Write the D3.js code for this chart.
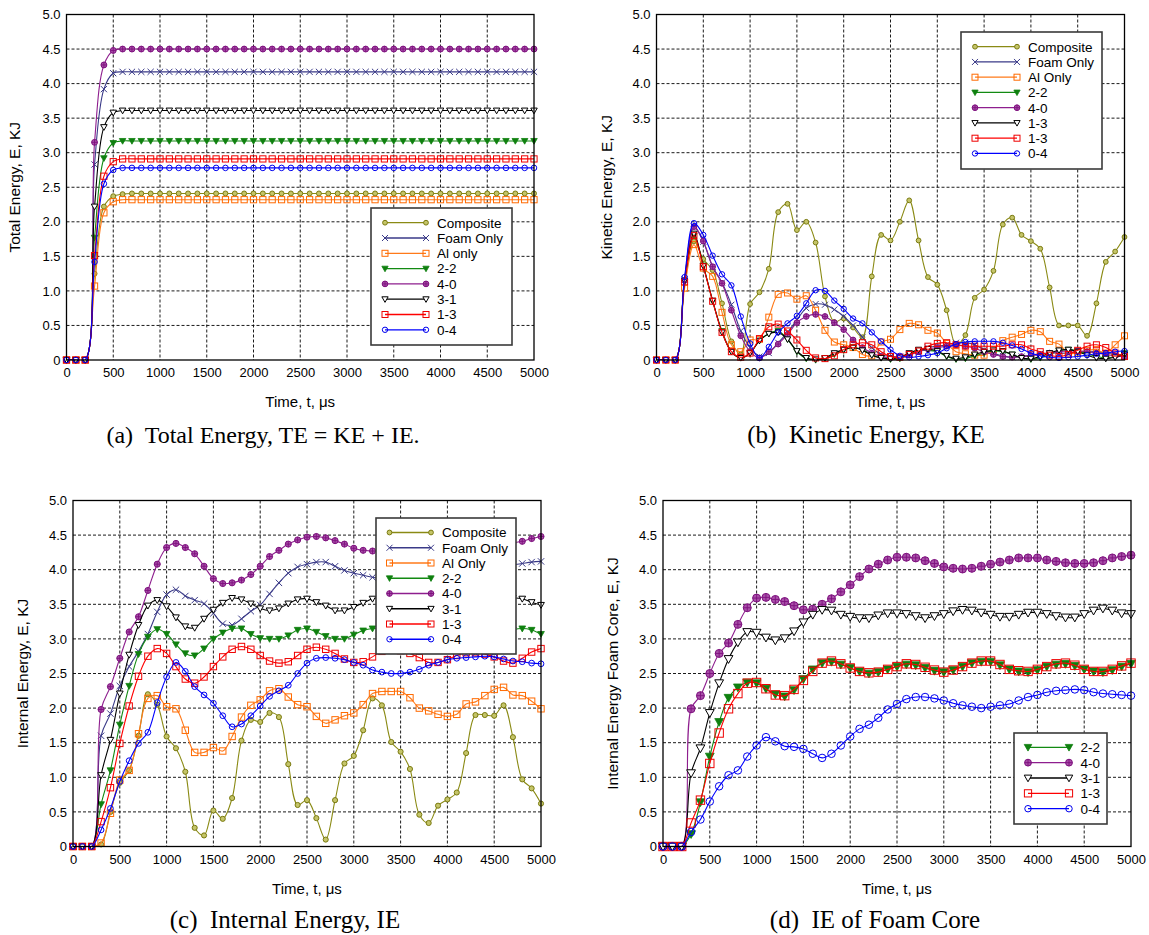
<!DOCTYPE html>
<html><head><meta charset="utf-8">
<script src="https://cdn.jsdelivr.net/npm/d3@7"></script>
<style>
html,body{margin:0;padding:0;background:#fff;}
svg{display:block;}
text{font-family:"Liberation Sans",Arial,sans-serif;}
.cap{font-family:"Liberation Serif","Times New Roman",serif;white-space:pre;}
</style></head>
<body>
<svg id="chart" width="1149" height="935"></svg>
<script>
// ---------------- DATA ----------------
const TIME = [0,100,200,300,400,500,600,700,800,900,
  1000,1100,1200,1300,1400,1500,1600,1700,1800,1900,
  2000,2100,2200,2300,2400,2500,2600,2700,2800,2900,
  3000,3100,3200,3300,3400,3500,3600,3700,3800,3900,
  4000,4100,4200,4300,4400,4500,4600,4700,4800,4900,5000];
const X_TICKS = [0,500,1000,1500,2000,2500,3000,3500,4000,4500,5000];
const Y_TICKS = [0,0.5,1.0,1.5,2.0,2.5,3.0,3.5,4.0,4.5,5.0];
const Y_TICK_LABELS = ["0","0.5","1.0","1.5","2.0","2.5","3.0","3.5","4.0","4.5","5.0"];

// (a) Total energy
const TE_COMPOSITE = [0,0,0,1.25,2.22,2.37,2.40,2.41,2.41,2.41,
  2.41,2.41,2.41,2.41,2.41,2.41,2.41,2.41,2.41,2.41,
  2.41,2.41,2.41,2.41,2.41,2.41,2.41,2.41,2.41,2.41,
  2.41,2.41,2.41,2.41,2.41,2.41,2.41,2.41,2.41,2.41,
  2.41,2.41,2.41,2.41,2.41,2.41,2.41,2.41,2.41,2.41,2.41];
const TE_FOAM = [0,0,0,2.83,3.92,4.15,4.17,4.17,4.17,4.17,
  4.17,4.17,4.17,4.17,4.17,4.17,4.17,4.17,4.17,4.17,
  4.17,4.17,4.17,4.17,4.17,4.17,4.17,4.17,4.17,4.17,
  4.17,4.17,4.17,4.17,4.17,4.17,4.17,4.17,4.17,4.17,
  4.17,4.17,4.17,4.17,4.17,4.17,4.17,4.17,4.17,4.17,4.17];
const TE_AL = [0,0,0,1.07,2.13,2.29,2.32,2.32,2.32,2.32,
  2.32,2.32,2.32,2.32,2.32,2.32,2.32,2.32,2.32,2.32,
  2.32,2.32,2.32,2.32,2.32,2.32,2.32,2.32,2.32,2.32,
  2.32,2.32,2.32,2.32,2.32,2.32,2.32,2.32,2.32,2.32,
  2.32,2.32,2.32,2.32,2.32,2.32,2.32,2.32,2.32,2.32,2.32];
const TE_22 = [0,0,0,1.77,2.92,3.14,3.17,3.17,3.17,3.17,
  3.17,3.17,3.17,3.17,3.17,3.17,3.17,3.17,3.17,3.17,
  3.17,3.17,3.17,3.17,3.17,3.17,3.17,3.17,3.17,3.17,
  3.17,3.17,3.17,3.17,3.17,3.17,3.17,3.17,3.17,3.17,
  3.17,3.17,3.17,3.17,3.17,3.17,3.17,3.17,3.17,3.17,3.17];
const TE_40 = [0,0,0,3.15,4.27,4.48,4.50,4.50,4.50,4.50,
  4.50,4.50,4.50,4.50,4.50,4.50,4.50,4.50,4.50,4.50,
  4.50,4.50,4.50,4.50,4.50,4.50,4.50,4.50,4.50,4.50,
  4.50,4.50,4.50,4.50,4.50,4.50,4.50,4.50,4.50,4.50,
  4.50,4.50,4.50,4.50,4.50,4.50,4.50,4.50,4.50,4.50,4.50];
const TE_31 = [0,0,0,2.22,3.37,3.58,3.61,3.61,3.61,3.61,
  3.61,3.61,3.61,3.61,3.61,3.61,3.61,3.61,3.61,3.61,
  3.61,3.61,3.61,3.61,3.61,3.61,3.61,3.61,3.61,3.61,
  3.61,3.61,3.61,3.61,3.61,3.61,3.61,3.61,3.61,3.61,
  3.61,3.61,3.61,3.61,3.61,3.61,3.61,3.61,3.61,3.61,3.61];
const TE_13 = [0,0,0,1.51,2.66,2.87,2.91,2.91,2.91,2.91,
  2.91,2.91,2.91,2.91,2.91,2.91,2.91,2.91,2.91,2.91,
  2.91,2.91,2.91,2.91,2.91,2.91,2.91,2.91,2.91,2.91,
  2.91,2.91,2.91,2.91,2.91,2.91,2.91,2.91,2.91,2.91,
  2.91,2.91,2.91,2.91,2.91,2.91,2.91,2.91,2.91,2.91,2.91];
const TE_04 = [0,0,0,1.42,2.55,2.75,2.78,2.78,2.78,2.78,
  2.78,2.78,2.78,2.78,2.78,2.78,2.78,2.78,2.78,2.78,
  2.78,2.78,2.78,2.78,2.78,2.78,2.78,2.78,2.78,2.78,
  2.78,2.78,2.78,2.78,2.78,2.78,2.78,2.78,2.78,2.78,
  2.78,2.78,2.78,2.78,2.78,2.78,2.78,2.78,2.78,2.78,2.78];

// (b) Kinetic energy
const KE_COMPOSITE = [0,0,0,1.15,1.72,1.46,1.30,0.82,0.27,0.08,
  0.81,0.98,1.32,2.14,2.26,1.88,2.00,1.70,0.92,0.55,
  0.60,0.47,0.33,1.21,1.81,1.73,2.00,2.31,1.73,1.20,
  1.09,0.72,0.22,0.36,0.90,1.02,1.29,1.96,2.06,1.81,
  1.72,1.61,1.05,0.50,0.50,0.50,0.35,0.82,1.42,1.57,1.78];
const KE_FOAM = [0,0,0,1.17,1.93,1.71,1.35,1.12,0.80,0.42,
  0.18,0.05,0.10,0.25,0.40,0.58,0.75,0.81,0.80,0.73,
  0.63,0.50,0.33,0.18,0.08,0.05,0.05,0.08,0.13,0.18,
  0.20,0.22,0.25,0.25,0.22,0.15,0.10,0.06,0.04,0.05,
  0.07,0.09,0.10,0.10,0.10,0.12,0.13,0.12,0.10,0.08,0.07];
const KE_AL = [0,0,0,1.04,1.67,1.33,1.21,0.69,0.22,0.12,
  0.29,0.30,0.62,0.95,0.97,0.88,0.93,0.72,0.43,0.26,
  0.22,0.18,0.08,0.06,0.26,0.30,0.44,0.53,0.51,0.43,
  0.39,0.24,0.12,0.09,0.07,0.07,0.15,0.28,0.33,0.37,
  0.43,0.41,0.27,0.23,0.10,0.10,0.14,0.15,0.10,0.22,0.35];
const KE_22 = [0,0,0,1.13,1.80,1.37,0.85,0.42,0.12,0.03,
  0.10,0.28,0.38,0.42,0.30,0.12,0.02,0.00,0.02,0.08,
  0.14,0.18,0.15,0.08,0.03,0.01,0.02,0.08,0.13,0.14,
  0.12,0.05,0.01,0.02,0.06,0.10,0.13,0.12,0.08,0.03,
  0.01,0.03,0.08,0.13,0.15,0.13,0.09,0.05,0.03,0.05,0.10];
const KE_40 = [0,0,0,1.15,1.93,1.72,1.35,1.11,0.72,0.35,
  0.12,0.03,0.12,0.23,0.37,0.54,0.63,0.66,0.63,0.54,
  0.44,0.29,0.18,0.10,0.05,0.03,0.04,0.07,0.12,0.16,
  0.18,0.20,0.22,0.20,0.17,0.12,0.08,0.05,0.04,0.05,
  0.06,0.08,0.10,0.12,0.13,0.13,0.12,0.10,0.08,0.06,0.05];
const KE_31 = [0,0,0,1.15,1.83,1.36,0.86,0.40,0.12,0.03,
  0.10,0.28,0.38,0.40,0.30,0.13,0.03,0.01,0.03,0.10,
  0.15,0.18,0.14,0.07,0.03,0.02,0.04,0.10,0.15,0.16,
  0.13,0.06,0.02,0.04,0.08,0.12,0.14,0.13,0.08,0.03,
  0.02,0.05,0.10,0.14,0.15,0.12,0.07,0.03,0.02,0.04,0.08];
const KE_13 = [0,0,0,1.13,1.80,1.35,0.85,0.40,0.12,0.04,
  0.10,0.31,0.48,0.52,0.42,0.29,0.14,0.03,0.02,0.06,
  0.15,0.22,0.25,0.22,0.12,0.05,0.04,0.08,0.13,0.20,
  0.24,0.25,0.22,0.20,0.20,0.20,0.20,0.20,0.22,0.22,
  0.16,0.12,0.07,0.05,0.08,0.14,0.20,0.22,0.18,0.10,0.05];
const KE_04 = [0,0,0,1.20,1.98,1.81,1.51,1.24,1.08,0.63,
  0.24,0.03,0.19,0.40,0.53,0.64,0.82,1.01,1.00,0.86,
  0.74,0.60,0.53,0.40,0.27,0.15,0.06,0.04,0.05,0.07,
  0.10,0.17,0.23,0.26,0.27,0.27,0.27,0.25,0.21,0.16,
  0.10,0.06,0.04,0.03,0.04,0.05,0.07,0.09,0.10,0.12,0.13];

// (c) Internal energy
const IE_COMPOSITE = [0,0,0,0.03,0.50,0.92,1.10,1.60,2.20,2.05,
  1.59,1.42,1.08,0.27,0.16,0.52,0.40,0.70,1.53,1.83,
  1.80,1.93,1.87,1.19,0.60,0.67,0.41,0.10,0.67,1.20,
  1.31,1.68,2.14,2.04,1.51,1.37,1.12,0.46,0.34,0.59,
  0.68,0.78,1.35,1.90,1.90,1.89,2.04,1.58,0.97,0.84,0.62];
const IE_FOAM = [0,0,0,1.60,1.92,2.32,2.60,2.82,3.07,3.39,
  3.64,3.71,3.62,3.56,3.51,3.37,3.22,3.20,3.29,3.40,
  3.49,3.65,3.81,3.95,4.04,4.08,4.11,4.11,4.05,3.99,
  3.95,3.92,3.89,3.87,3.86,3.87,3.89,3.92,3.95,3.97,
  3.98,3.99,4.00,4.02,4.04,4.05,4.06,4.07,4.09,4.11,4.12];
const IE_AL = [0,0,0,0.05,0.48,0.96,1.10,1.63,2.14,2.18,
  2.02,1.99,1.68,1.36,1.36,1.43,1.38,1.59,1.87,2.04,
  2.12,2.25,2.28,2.16,2.05,2.02,1.88,1.78,1.83,1.89,
  1.93,2.05,2.21,2.24,2.24,2.24,2.15,2.00,1.96,1.91,
  1.88,1.91,2.06,2.09,2.18,2.27,2.30,2.19,2.18,2.10,1.99];
const IE_22 = [0,0,0,0.61,1.10,1.76,2.32,2.78,3.03,3.14,
  3.07,2.92,2.79,2.76,2.86,3.00,3.09,3.15,3.15,3.07,
  3.01,3.00,3.00,3.05,3.13,3.15,3.10,3.04,3.00,3.00,
  3.06,3.12,3.15,3.15,3.12,3.07,3.02,3.00,3.02,3.07,
  3.12,3.15,3.14,3.10,3.06,3.05,3.08,3.13,3.15,3.13,3.07];
const IE_40 = [0,0,0,1.98,2.31,2.72,3.10,3.32,3.70,4.08,
  4.32,4.38,4.32,4.23,4.05,3.87,3.80,3.81,3.85,3.93,
  4.05,4.19,4.28,4.37,4.43,4.47,4.48,4.46,4.42,4.37,
  4.31,4.28,4.27,4.26,4.27,4.28,4.30,4.32,4.33,4.33,
  4.32,4.31,4.31,4.32,4.34,4.36,4.38,4.39,4.41,4.45,4.48];
const IE_31 = [0,0,0,1.03,1.54,2.21,2.77,3.20,3.48,3.56,
  3.47,3.31,3.18,3.16,3.29,3.42,3.52,3.59,3.57,3.51,
  3.44,3.41,3.44,3.51,3.57,3.58,3.53,3.48,3.41,3.41,
  3.46,3.52,3.58,3.60,3.58,3.53,3.47,3.44,3.45,3.50,
  3.55,3.58,3.57,3.53,3.50,3.52,3.56,3.59,3.58,3.53,3.49];
const IE_13 = [0,0,0,0.36,0.85,1.49,2.03,2.46,2.75,2.86,
  2.79,2.60,2.42,2.36,2.45,2.60,2.74,2.85,2.89,2.85,
  2.76,2.68,2.65,2.67,2.76,2.85,2.88,2.85,2.79,2.71,
  2.66,2.67,2.74,2.82,2.84,2.83,2.79,2.73,2.66,2.66,
  2.70,2.76,2.80,2.80,2.78,2.74,2.68,2.65,2.72,2.81,2.86];
const IE_04 = [0,0,0,0.24,0.55,0.94,1.24,1.49,1.65,2.08,
  2.45,2.66,2.53,2.31,2.19,2.07,1.89,1.73,1.77,1.89,
  2.03,2.17,2.25,2.33,2.50,2.65,2.72,2.73,2.72,2.70,
  2.66,2.62,2.55,2.52,2.50,2.50,2.52,2.56,2.62,2.66,
  2.70,2.72,2.73,2.74,2.75,2.74,2.71,2.68,2.67,2.65,2.64];

// (d) IE of foam core
const FC_22 = [0,0,0,0.18,0.64,1.30,1.80,2.15,2.30,2.37,
  2.36,2.28,2.20,2.17,2.26,2.42,2.56,2.65,2.67,2.63,
  2.58,2.53,2.50,2.52,2.56,2.60,2.63,2.62,2.58,2.54,
  2.52,2.55,2.60,2.65,2.67,2.67,2.62,2.56,2.53,2.52,
  2.55,2.60,2.63,2.64,2.61,2.56,2.53,2.52,2.55,2.60,2.64];
const FC_40 = [0,0,0,1.99,2.18,2.50,2.79,2.94,3.21,3.45,
  3.59,3.60,3.57,3.54,3.48,3.42,3.43,3.50,3.58,3.68,
  3.78,3.90,4.01,4.08,4.14,4.18,4.18,4.17,4.13,4.09,
  4.04,4.02,4.01,4.02,4.05,4.08,4.11,4.14,4.17,4.17,
  4.17,4.14,4.12,4.10,4.09,4.09,4.10,4.13,4.17,4.19,4.21];
const FC_31 = [0,0,0,1.06,1.42,1.93,2.36,2.71,2.95,3.10,
  3.09,3.02,2.98,3.01,3.11,3.24,3.35,3.42,3.41,3.35,
  3.32,3.30,3.30,3.34,3.37,3.37,3.36,3.33,3.30,3.33,
  3.36,3.40,3.42,3.41,3.38,3.35,3.32,3.32,3.35,3.38,
  3.38,3.36,3.33,3.31,3.31,3.36,3.41,3.44,3.41,3.37,3.36];
const FC_13 = [0,0,0,0.34,0.67,1.20,1.64,1.99,2.21,2.36,
  2.37,2.28,2.19,2.18,2.27,2.40,2.53,2.65,2.68,2.64,
  2.58,2.53,2.51,2.52,2.56,2.60,2.64,2.63,2.59,2.55,
  2.52,2.55,2.60,2.65,2.68,2.68,2.63,2.56,2.54,2.53,
  2.56,2.60,2.64,2.65,2.62,2.56,2.53,2.53,2.56,2.61,2.65];
const FC_04 = [0,0,0,0.21,0.39,0.65,0.87,1.03,1.10,1.30,
  1.46,1.58,1.52,1.45,1.44,1.41,1.34,1.28,1.34,1.46,
  1.59,1.70,1.76,1.86,1.98,2.06,2.13,2.16,2.16,2.14,
  2.11,2.07,2.04,2.02,2.00,2.02,2.04,2.06,2.11,2.16,
  2.19,2.23,2.25,2.26,2.27,2.26,2.23,2.21,2.20,2.19,2.18];

const LEGEND_A = ["Composite","Foam Only","Al only","2-2","4-0","3-1","1-3","0-4"];
const LEGEND_B = ["Composite","Foam Only","Al Only","2-2","4-0","1-3","1-3","0-4"];
const LEGEND_C = ["Composite","Foam Only","Al Only","2-2","4-0","3-1","1-3","0-4"];
const LEGEND_D = ["2-2","4-0","3-1","1-3","0-4"];

// ---------------- STYLES ----------------
const STY = {
  comp: {color:"#8a8a14", marker:"circ", fill:"#c4c468", stroke:"#7a7a10"},
  foam: {color:"#3a3a88", marker:"x", fill:"none", stroke:"#3a3a88"},
  al:   {color:"#ff7a1a", marker:"sq", fill:"none", stroke:"#ff6a00"},
  s22:  {color:"#128a12", marker:"trif", fill:"#0f800f", stroke:"#0f800f"},
  s40:  {color:"#8e1e8e", marker:"circplus", fill:"#a850a8", stroke:"#7e107e"},
  s31:  {color:"#000000", marker:"trio", fill:"#ffffff", stroke:"#000000"},
  s13:  {color:"#ff0000", marker:"sq", fill:"none", stroke:"#ee0000"},
  s04:  {color:"#0000ff", marker:"circo", fill:"none", stroke:"#0000ee"}
};

const svg = d3.select("#chart");

function marker(g, st, cx, cy, s) {
  const m = g.append("g").attr("transform", `translate(${cx},${cy})`);
  switch (st.marker) {
    case "circ":
      m.append("circle").attr("r", s*0.8).attr("fill", st.fill).attr("stroke", st.stroke).attr("stroke-width", 1);
      break;
    case "circo":
      m.append("circle").attr("r", s*0.9).attr("fill", "none").attr("stroke", st.stroke).attr("stroke-width", 1);
      break;
    case "circplus":
      m.append("circle").attr("r", s*0.95).attr("fill", st.fill).attr("stroke", st.stroke).attr("stroke-width", 1);
      m.append("path").attr("d", `M${-s*0.95},0H${s*0.95}M0,${-s*0.95}V${s*0.95}`).attr("stroke", st.stroke).attr("stroke-width", 0.9);
      break;
    case "x":
      m.append("path").attr("d", `M${-s},${-s}L${s},${s}M${-s},${s}L${s},${-s}`).attr("stroke", st.stroke).attr("stroke-width", 1);
      break;
    case "sq":
      m.append("rect").attr("x", -s).attr("y", -s).attr("width", 2*s).attr("height", 2*s)
        .attr("fill", "none").attr("stroke", st.stroke).attr("stroke-width", 1);
      break;
    case "trif":
      m.append("path").attr("d", `M${-s*1.05},${-s*0.8}L${s*1.05},${-s*0.8}L0,${s*1.05}Z`).attr("fill", st.fill).attr("stroke", st.stroke).attr("stroke-width", 0.8);
      break;
    case "trio":
      m.append("path").attr("d", `M${-s*1.05},${-s*0.8}L${s*1.05},${-s*0.8}L0,${s*1.05}Z`).attr("fill", st.fill).attr("stroke", st.stroke).attr("stroke-width", 1);
      break;
  }
}

function panel(cfg) {
  const x = d3.scaleLinear().domain([0, 5000]).range([cfg.left, cfg.right]);
  const y = d3.scaleLinear().domain([0, 5]).range([cfg.bottom, cfg.top]);
  const g = svg.append("g");
  const clipId = "clip" + cfg.id;
  svg.append("defs").append("clipPath").attr("id", clipId)
    .append("rect").attr("x", cfg.left).attr("y", cfg.top)
    .attr("width", cfg.right - cfg.left).attr("height", cfg.bottom - cfg.top);

  // grid
  g.append("g").selectAll("line").data(X_TICKS.slice(1, -1)).join("line")
    .attr("x1", d => x(d)).attr("x2", d => x(d)).attr("y1", cfg.top).attr("y2", cfg.bottom)
    .attr("stroke", "#000").attr("stroke-width", 0.9).attr("stroke-dasharray", "3,2");
  g.append("g").selectAll("line").data(Y_TICKS.slice(1, -1)).join("line")
    .attr("y1", d => y(d)).attr("y2", d => y(d)).attr("x1", cfg.left).attr("x2", cfg.right)
    .attr("stroke", "#000").attr("stroke-width", 0.9).attr("stroke-dasharray", "3,2");

  // axes
  const ax = g.append("g").attr("transform", `translate(0,${cfg.bottom})`)
    .call(d3.axisBottom(x).tickValues(X_TICKS).tickSize(0).tickPadding(8).tickFormat(d3.format("d")));
  const ay = g.append("g").attr("transform", `translate(${cfg.left},0)`)
    .call(d3.axisLeft(y).tickValues(Y_TICKS).tickSize(0).tickPadding(6).tickFormat((d, i) => Y_TICK_LABELS[i]));
  [ax, ay].forEach(a => {
    a.select(".domain").remove();
    a.selectAll("text").attr("font-size", 13).attr("fill", "#000")
      .attr("font-family", '"Liberation Sans",Arial,sans-serif');
  });

  // series
  const line = d3.line().x((d, i) => x(TIME[i])).y(d => y(d)).curve(d3.curveCatmullRom.alpha(0.5));
  const sg = g.append("g");
  cfg.series.forEach(s => {
    sg.append("path").attr("d", line(s.values)).attr("fill", "none")
      .attr("stroke", s.st.color).attr("stroke-width", 1.1).attr("clip-path", `url(#${clipId})`);
    const mg = sg.append("g");
    s.values.forEach((v, i) => marker(mg, s.st, x(TIME[i]), y(v), cfg.ms));
  });

  // frame
  g.append("rect").attr("x", cfg.left).attr("y", cfg.top)
    .attr("width", cfg.right - cfg.left).attr("height", cfg.bottom - cfg.top)
    .attr("fill", "none").attr("stroke", "#000").attr("stroke-width", 1.3);

  // axis titles
  g.append("text").attr("x", (cfg.left + cfg.right) / 2).attr("y", cfg.bottom + 47)
    .attr("text-anchor", "middle").attr("font-size", 15).text("Time, t, \u03bcs");
  g.append("text").attr("transform", `translate(${cfg.ylabX},${(cfg.top + cfg.bottom) / 2}) rotate(-90)`)
    .attr("text-anchor", "middle").attr("dy", "0.35em").attr("font-size", 15.5).text(cfg.ylabel);

  // legend
  const L = cfg.legend;
  const lg = g.append("g").attr("transform", `translate(${L.x},${L.y})`);
  lg.append("rect").attr("width", L.w).attr("height", L.h).attr("fill", "#fff")
    .attr("stroke", "#3a3a3a").attr("stroke-width", 1.6);
  cfg.series.forEach((s, i) => {
    const ry = L.row0 + i * L.dy;
    lg.append("line").attr("x1", L.l0).attr("x2", L.l1).attr("y1", ry).attr("y2", ry)
      .attr("stroke", s.st.color).attr("stroke-width", 1.3);
    marker(lg, s.st, L.l0, ry, cfg.lms);
    marker(lg, s.st, L.l1, ry, cfg.lms);
    lg.append("text").attr("x", L.tx).attr("y", ry).attr("dy", "0.36em")
      .attr("font-size", 13.5).text(cfg.labels[i]);
  });

  // caption
  svg.append("text").attr("class", "cap").attr("x", cfg.capX).attr("y", cfg.capY)
    .attr("text-anchor", "middle").attr("font-size", cfg.capSize).text(cfg.caption);
}

panel({
  id: "a", left: 66.5, right: 534, top: 14.5, bottom: 360, ms: 3.1, lms: 3,
  ylabel: "Total Energy, E, KJ", ylabX: 15,
  series: [
    {values: TE_COMPOSITE, st: STY.comp}, {values: TE_FOAM, st: STY.foam}, {values: TE_AL, st: STY.al},
    {values: TE_22, st: STY.s22}, {values: TE_40, st: STY.s40}, {values: TE_31, st: STY.s31},
    {values: TE_13, st: STY.s13}, {values: TE_04, st: STY.s04}],
  labels: LEGEND_A,
  legend: {x: 371, y: 208, w: 141, h: 137, row0: 14.7, dy: 15.3, l0: 14, l1: 55, tx: 66},
  caption: "(a)  Total Energy, TE = KE + IE.", capX: 263, capY: 443, capSize: 24
});
panel({
  id: "b", left: 656.5, right: 1124.5, top: 14.5, bottom: 360, ms: 3, lms: 3,
  ylabel: "Kinetic Energy, E, KJ", ylabX: 607,
  series: [
    {values: KE_COMPOSITE, st: STY.comp}, {values: KE_FOAM, st: STY.foam}, {values: KE_AL, st: STY.al},
    {values: KE_22, st: STY.s22}, {values: KE_40, st: STY.s40}, {values: KE_31, st: STY.s31},
    {values: KE_13, st: STY.s13}, {values: KE_04, st: STY.s04}],
  labels: LEGEND_B,
  legend: {x: 961, y: 32, w: 141, h: 137, row0: 14.7, dy: 15.25, l0: 14, l1: 56, tx: 67},
  caption: "(b)  Kinetic Energy, KE", capX: 866, capY: 443, capSize: 25
});
panel({
  id: "c", left: 73, right: 541, top: 500.5, bottom: 846.5, ms: 3.2, lms: 3,
  ylabel: "Internal Energy, E, KJ", ylabX: 23,
  series: [
    {values: IE_COMPOSITE, st: STY.comp}, {values: IE_FOAM, st: STY.foam}, {values: IE_AL, st: STY.al},
    {values: IE_22, st: STY.s22}, {values: IE_40, st: STY.s40}, {values: IE_31, st: STY.s31},
    {values: IE_13, st: STY.s13}, {values: IE_04, st: STY.s04}],
  labels: LEGEND_C,
  legend: {x: 376, y: 518, w: 140, h: 136, row0: 14.5, dy: 15.25, l0: 13.5, l1: 55, tx: 66},
  caption: "(c)  Internal Energy, IE", capX: 285, capY: 928, capSize: 25
});
panel({
  id: "d", left: 663, right: 1131, top: 500.5, bottom: 846.5, ms: 4.2, lms: 3.6,
  ylabel: "Internal Energy Foam Core, E, KJ", ylabX: 613,
  series: [
    {values: FC_22, st: STY.s22}, {values: FC_40, st: STY.s40}, {values: FC_31, st: STY.s31},
    {values: FC_13, st: STY.s13}, {values: FC_04, st: STY.s04}],
  labels: LEGEND_D,
  legend: {x: 1014, y: 733, w: 93, h: 91, row0: 14.3, dy: 15.35, l0: 14, l1: 55, tx: 66.5},
  caption: "(d)  IE of Foam Core", capX: 875, capY: 928, capSize: 25
});
</script>
</body></html>
